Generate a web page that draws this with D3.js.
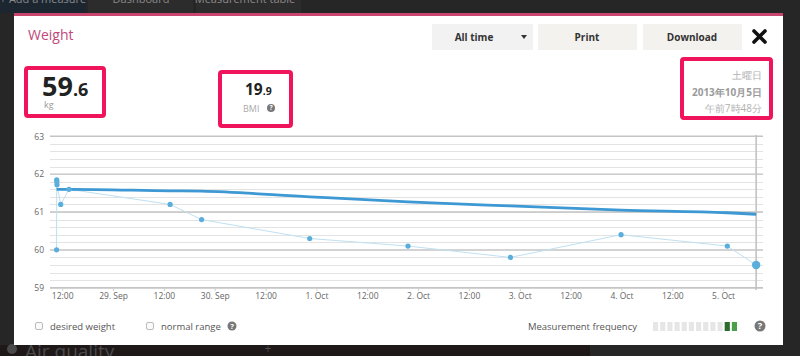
<!DOCTYPE html>
<html><head><meta charset="utf-8">
<script src="https://cdn.jsdelivr.net/npm/d3@7"></script>
<style>
html,body{margin:0;padding:0;background:#262626;}
svg{display:block;}
text{font-family:"Open Sans","DejaVu Sans",sans-serif;}
</style></head>
<body>
<svg id="c" width="800" height="356"></svg>
<script>
// ---- data ----
const times = ["2013-09-28T10:40","2013-09-28T10:42","2013-09-28T10:44","2013-09-28T10:46","2013-09-28T11:39","2013-09-28T13:36","2013-09-29T13:28","2013-09-29T20:54","2013-09-30T22:25","2013-10-01T21:37","2013-10-02T21:48","2013-10-03T23:55","2013-10-05T01:00","2013-10-05T07:48"];
const weights = [60.0, 61.85, 61.8, 61.72, 61.2, 61.6, 61.2, 60.8, 60.3, 60.1, 59.8, 60.4, 60.1, 59.6];
const trend = [61.6, 61.6, 61.6, 61.6, 61.6, 61.6, 61.56, 61.55, 61.40, 61.27, 61.16, 61.05, 60.98, 60.94];
const xDomain = ["2013-09-28T09:07","2013-10-05T09:25"];
const xTicks = ["2013-09-28T12:00","2013-09-29T00:00","2013-09-29T12:00","2013-09-30T00:00","2013-09-30T12:00","2013-10-01T00:00","2013-10-01T12:00","2013-10-02T00:00","2013-10-02T12:00","2013-10-03T00:00","2013-10-03T12:00","2013-10-04T00:00","2013-10-04T12:00","2013-10-05T00:00"];
const xTickLabels = ["12:00","29. Sep","12:00","30. Sep","12:00","1. Oct","12:00","2. Oct","12:00","3. Oct","12:00","4. Oct","12:00","5. Oct"];
const yTicks = [59, 60, 61, 62, 63];
const yMinorStep = 0.2;
const freqLevels = [0,0,0,0,0,0,0,0,0,0,2,1];
const tabs = ["+ Add a measure","Dashboard","Measurement table"];
const dateLines = ["土曜日","2013年10月5日","午前7時48分"];

const parse = d3.timeParse("%Y-%m-%dT%H:%M");
const svg = d3.select("#c");

// ---- background page ----
svg.append("rect").attr("x",0).attr("y",0).attr("width",800).attr("height",356).attr("fill","#262626");
svg.append("rect").attr("x",0).attr("y",0).attr("width",86).attr("height",13).attr("fill","#1b2631");
svg.append("rect").attr("x",88).attr("y",0).attr("width",105).attr("height",13).attr("fill","#2c2c2c");
svg.append("rect").attr("x",196).attr("y",0).attr("width",105).attr("height",13).attr("fill","#2c2c2c");
const tabX = [43, 141, 245];
tabs.forEach((t,i)=>{
  svg.append("text").attr("x",tabX[i]).attr("y",3).attr("text-anchor","middle")
    .attr("font-size",11).attr("fill","#8a8a8a").text(t);
});
svg.append("rect").attr("x",0).attr("y",345).attr("width",590).attr("height",11).attr("fill","#1f1819");
svg.append("circle").attr("cx",12).attr("cy",349).attr("r",5).attr("fill","#4a4a4a");
svg.append("text").attr("x",25).attr("y",358).attr("font-size",19).attr("fill","#4a4a4a").text("Air quality");
svg.append("text").attr("x",268).attr("y",353).attr("text-anchor","middle").attr("font-size",12).attr("fill","#4a4a4a").text("+");

// ---- modal ----
svg.append("rect").attr("x",14).attr("y",13).attr("width",769).attr("height",332).attr("fill","#ffffff");
svg.append("rect").attr("x",14).attr("y",13).attr("width",769).attr("height",3).attr("fill","#c8456e");
svg.append("text").attr("x",28).attr("y",40).attr("font-size",14).attr("fill","#c0487a").text("Weight");

// buttons
const btns = [{x:432,w:101,label:"All time",cx:474,fill:"#f2f2f2"},{x:538,w:99,label:"Print",cx:587,fill:"#f3f2ef"},{x:643,w:99,label:"Download",cx:692,fill:"#f3f2ef"}];
btns.forEach(b=>{
  svg.append("rect").attr("x",b.x).attr("y",24).attr("width",b.w).attr("height",26).attr("fill",b.fill);
  svg.append("text").attr("x",b.cx).attr("y",40.5).attr("text-anchor","middle").attr("font-size",10)
    .attr("font-weight","bold").attr("fill","#333").text(b.label);
});
svg.append("path").attr("d","M521,35 L527,35 L524,39 Z").attr("fill","#333");
svg.append("path").attr("d","M754,31 L765,42 M765,31 L754,42").attr("stroke","#111").attr("stroke-width",3.6).attr("stroke-linecap","round");

// highlight boxes
const boxes = [[24,66,82,52],[218,70,75,58],[680,57,93,63]];
boxes.forEach(b=>{
  svg.append("rect").attr("x",b[0]+2).attr("y",b[1]+2).attr("width",b[2]-4).attr("height",b[3]-4)
    .attr("rx",2).attr("fill","none").attr("stroke","#f0145c").attr("stroke-width",4);
});
// weight value
const wv = svg.append("text").attr("x",42).attr("y",96).attr("font-weight","bold").attr("fill","#222");
wv.append("tspan").attr("font-size",27).text("59");
wv.append("tspan").attr("font-size",18).text(".6");
svg.append("text").attr("x",44).attr("y",108).attr("font-size",9).attr("fill","#999").text("kg");
// BMI
const bv = svg.append("text").attr("x",245).attr("y",95).attr("font-weight","bold").attr("fill","#222");
bv.append("tspan").attr("font-size",15.5).text("19");
bv.append("tspan").attr("font-size",10.5).text(".9");
svg.append("text").attr("x",243).attr("y",112).attr("font-size",9).attr("fill","#aaa").text("BMI");
function qicon(cx,cy,r){
  svg.append("circle").attr("cx",cx).attr("cy",cy).attr("r",r).attr("fill","#777");
  svg.append("text").attr("x",cx).attr("y",cy+r*0.6).attr("text-anchor","middle").attr("font-size",r*1.7)
    .attr("font-weight","bold").attr("fill","#fff").text("?");
}
qicon(271,108,4);
// date
const dy = [79,96,112];
dateLines.forEach((t,i)=>{
  svg.append("text").attr("x",762).attr("y",dy[i]).attr("text-anchor","end").attr("font-size",10)
    .attr("font-family","'Noto Sans CJK JP',sans-serif")
    .attr("font-weight", i===1?"bold":"normal").attr("fill", i===1?"#9a9a9a":"#b0b0b0").text(t);
});

// ---- chart ----
const x = d3.scaleTime().domain(xDomain.map(parse)).range([50,763]);
const y = d3.scaleLinear().domain([59,63]).range([287.7,136.3]);
const g = svg.append("g");
const minor = d3.range(yTicks[0], yTicks[yTicks.length-1]+1e-9, yMinorStep);
g.selectAll(".mn").data(minor).join("line")
  .attr("x1",50).attr("x2",763).attr("y1",d=>Math.round(y(d))+0.5).attr("y2",d=>Math.round(y(d))+0.5)
  .attr("stroke","#e3e3e3").attr("stroke-width",1);
g.selectAll(".mj").data(yTicks).join("line")
  .attr("x1",50).attr("x2",763).attr("y1",d=>y(d)).attr("y2",d=>y(d))
  .attr("stroke","#c4c4c4").attr("stroke-width",1.4);
// y labels
const yAxis = d3.axisLeft(y).tickValues(yTicks).tickSize(0).tickPadding(0).tickFormat(d3.format("d"));
const ya = svg.append("g").attr("transform","translate(44,0)").call(yAxis);
ya.select(".domain").remove();
ya.selectAll("text").attr("font-size",8.5).attr("fill","#666").attr("font-family","'DejaVu Sans',sans-serif");
// x labels
const xAxis = d3.axisBottom(x).tickValues(xTicks.map(parse)).tickSize(3).tickPadding(2)
  .tickFormat((d,i)=>xTickLabels[i]);
const xa = svg.append("g").attr("transform","translate(0,288)").call(xAxis);
xa.select(".domain").remove();
xa.selectAll("line").attr("stroke","#d0d0d0");
xa.selectAll("text").attr("font-size",8.5).attr("fill","#666").attr("font-family","'DejaVu Sans',sans-serif");

const pts = times.map((t,i)=>({t:parse(t), w:weights[i], tr:trend[i]}));
// crosshair at last point
const last = pts[pts.length-1];
svg.append("line").attr("x1",x(last.t)).attr("x2",x(last.t)).attr("y1",135).attr("y2",290)
  .attr("stroke","#c2c2c2").attr("stroke-width",1.6);
// thin line
svg.append("path").datum(pts)
  .attr("d", d3.line().x(d=>x(d.t)).y(d=>y(d.w)))
  .attr("fill","none").attr("stroke","#bfe0f0").attr("stroke-width",1);
// trend line
svg.append("path").datum(pts)
  .attr("d", d3.line().x(d=>x(d.t)).y(d=>y(d.tr)).curve(d3.curveMonotoneX))
  .attr("fill","none").attr("stroke","#3d98d3").attr("stroke-width",2.8);
// dots
svg.selectAll(".dot").data(pts).join("circle")
  .attr("cx",d=>x(d.t)).attr("cy",d=>y(d.w)).attr("r",(d,i)=> i===pts.length-1?4.2:2.6)
  .attr("fill","#5aaedb");

// ---- bottom legend ----
function cbox(x0){
  svg.append("rect").attr("x",x0+0.5).attr("y",322.5).attr("width",7).attr("height",7).attr("rx",1.5)
    .attr("fill","#fafafa").attr("stroke","#bbb");
}
cbox(35);
svg.append("text").attr("x",50).attr("y",329.5).attr("font-size",9.5).attr("fill","#555").text("desired weight");
cbox(146);
svg.append("text").attr("x",161).attr("y",329.5).attr("font-size",9.5).attr("fill","#555").text("normal range");
qicon(232,326,4.5);
svg.append("text").attr("x",637).attr("y",329.5).attr("text-anchor","end").attr("font-size",9.5).attr("fill","#555").text("Measurement frequency");
const freqColor = d3.scaleOrdinal().domain([0,1,2]).range(["#e6e6e6","#4aa04a","#2b6b2b"]);
const fx = d3.scaleBand().domain(d3.range(freqLevels.length)).range([653,737]).paddingInner(0.28);
svg.selectAll(".fq").data(freqLevels).join("rect")
  .attr("x",(d,i)=>fx(i)).attr("y",322).attr("width",fx.bandwidth()).attr("height",9)
  .attr("fill",d=>freqColor(d));
qicon(760,326,5.5);
</script>
</body></html>
